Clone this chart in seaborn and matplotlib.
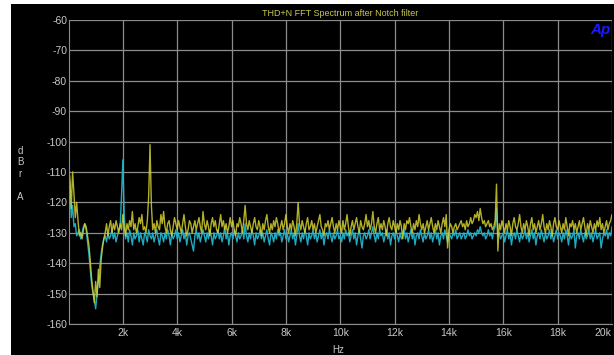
import numpy as np
import pandas as pd
import matplotlib
matplotlib.use("Agg")
import matplotlib.pyplot as plt
from matplotlib.patches import Rectangle
from matplotlib.ticker import MultipleLocator
from matplotlib.transforms import ScaledTranslation
import seaborn as sns

# FFT bin frequencies (Hz), 50 Hz bins
freq_hz = np.arange(0, 20001, 50)

# Yellow trace (dBrA)
yellow_db = [
    -108, -112, -122, -110, -117, -125, -120, -126, -131, -130,
    -132, -129, -127, -128, -131, -134, -139, -145, -149, -153,
    -146, -151, -142, -148, -139, -135, -132, -130, -127, -131,
    -128, -126, -130, -127, -129, -126, -128, -130, -127, -129,
    -124, -128, -131, -127, -129, -126, -128, -123, -129, -127,
    -130, -128, -125, -127, -124, -129, -128, -130, -126, -118,
    -101, -121, -129, -127, -130, -126, -128, -129, -124, -127,
    -123, -128, -130, -127, -126, -129, -131, -128, -125, -127,
    -129, -126, -128, -130, -127, -124, -128, -131, -129, -126,
    -127, -130, -128, -126, -129, -127, -125, -128, -130, -123,
    -127, -129, -126, -128, -131, -127, -125, -128, -126, -129,
    -130, -127, -124, -128, -126, -129, -127, -130, -128, -125,
    -128, -126, -129, -131, -127, -128, -125, -127, -130, -126,
    -121, -127, -129, -126, -128, -130, -127, -125, -128, -129,
    -126, -128, -131, -127, -129, -126, -124, -128, -130, -127,
    -129, -126, -128, -125, -127, -130, -128, -126, -129, -127,
    -124, -128, -130, -127, -129, -126, -128, -131, -127, -120,
    -127, -129, -126, -128, -130, -127, -125, -129, -128, -126,
    -129, -127, -130, -128, -126, -124, -128, -129, -131, -127,
    -128, -126, -129, -127, -125, -128, -130, -127, -129, -126,
    -128, -130, -126, -129, -127, -124, -128, -131, -128, -126,
    -129, -127, -125, -128, -130, -126, -128, -129, -127, -124,
    -128, -126, -129, -127, -123, -128, -130, -127, -125, -129,
    -127, -129, -126, -128, -131, -127, -125, -128, -129, -126,
    -128, -130, -127, -129, -126, -128, -132, -127, -129, -126,
    -127, -125, -128, -130, -127, -129, -126, -128, -124, -127,
    -129, -127, -130, -128, -126, -129, -127, -125, -128, -130,
    -127, -129, -126, -128, -130, -127, -125, -128, -124, -135,
    -129, -127, -128, -130, -128, -127, -129, -128, -127, -126,
    -128, -127, -129, -126, -128, -127, -125, -127, -126, -124,
    -125, -123, -126, -122, -125, -127, -126, -128, -127, -126,
    -128, -127, -129, -128, -126, -114, -136, -127, -129, -126,
    -128, -130, -127, -129, -126, -128, -131, -127, -125, -128,
    -129, -127, -124, -128, -130, -127, -129, -126, -128, -131,
    -127, -125, -129, -127, -130, -128, -126, -129, -127, -124,
    -128, -130, -127, -129, -126, -128, -131, -127, -125, -128,
    -129, -126, -128, -130, -127, -129, -125, -128, -131, -127,
    -128, -126, -129, -127, -130, -128, -126, -129, -127, -125,
    -128, -131, -127, -129, -126, -128, -130, -127, -129, -126,
    -128, -125, -129, -127, -130, -128, -126, -129, -127, -126,
    -124,
]

# Cyan trace (dBrA)
cyan_db = [
    -120, -113, -125, -121, -128, -127, -131, -130, -129, -132,
    -130, -128, -127, -129, -133, -137, -142, -147, -150, -152,
    -155, -150, -146, -141, -137, -134, -132, -131, -133, -130,
    -132, -131, -129, -132, -130, -133, -131, -129, -128, -118,
    -106, -124, -132, -130, -133, -129, -131, -134, -130, -132,
    -131, -129, -133, -130, -132, -134, -130, -131, -133, -129,
    -131, -132, -130, -133, -131, -129, -132, -134, -130, -131,
    -133, -130, -132, -129, -131, -134, -130, -132, -131, -129,
    -132, -130, -133, -131, -129, -132, -130, -134, -131, -130,
    -132, -134, -136, -131, -129, -132, -130, -133, -131, -129,
    -131, -133, -130, -132, -129, -131, -134, -130, -132, -131,
    -129, -132, -130, -133, -131, -128, -132, -130, -134, -131,
    -130, -132, -129, -131, -133, -130, -132, -131, -129, -132,
    -127, -131, -133, -130, -132, -129, -131, -134, -130, -132,
    -131, -129, -132, -130, -133, -131, -129, -132, -134, -130,
    -131, -133, -130, -132, -129, -131, -130, -133, -131, -129,
    -132, -130, -133, -131, -129, -132, -130, -134, -131, -127,
    -131, -133, -130, -132, -129, -131, -134, -130, -132, -131,
    -129, -132, -130, -133, -131, -129, -132, -130, -134, -131,
    -130, -132, -129, -131, -133, -130, -132, -131, -129, -132,
    -131, -133, -130, -132, -129, -131, -130, -133, -131, -129,
    -132, -130, -134, -131, -129, -132, -135, -131, -130, -132,
    -131, -129, -132, -130, -128, -131, -133, -130, -132, -129,
    -131, -130, -133, -131, -129, -132, -130, -134, -131, -130,
    -132, -129, -131, -133, -130, -132, -131, -129, -132, -130,
    -133, -131, -129, -132, -130, -134, -131, -130, -132, -129,
    -131, -133, -130, -132, -131, -129, -132, -130, -133, -131,
    -129, -132, -130, -134, -131, -130, -132, -129, -131, -133,
    -130, -131, -132, -130, -131, -129, -132, -131, -130, -132,
    -131, -130, -132, -131, -129, -131, -130, -132, -131, -130,
    -131, -129, -130, -128, -130, -131, -130, -132, -131, -129,
    -131, -130, -132, -129, -128, -122, -131, -130, -132, -131,
    -130, -133, -131, -129, -132, -130, -134, -131, -130, -132,
    -129, -131, -133, -130, -132, -131, -129, -132, -130, -133,
    -131, -129, -132, -130, -134, -131, -130, -132, -129, -131,
    -133, -130, -132, -131, -129, -132, -130, -133, -131, -129,
    -132, -130, -131, -133, -130, -132, -129, -131, -134, -130,
    -132, -131, -129, -135, -131, -130, -132, -129, -131, -133,
    -130, -132, -131, -129, -132, -130, -133, -131, -129, -132,
    -131, -130, -135, -132, -130, -131, -129, -132, -130, -131,
    -128,
]

x_ticks = [2000, 4000, 6000, 8000, 10000, 12000, 14000, 16000, 18000, 20000]
x_tick_labels = ["2k", "4k", "6k", "8k", "10k", "12k", "14k", "16k", "18k", "20k"]
y_ticks = [-60, -70, -80, -90, -100, -110, -120, -130, -140, -150, -160]

title_text = "THD+N FFT Spectrum after Notch filter"

assert len(yellow_db) == len(freq_hz) == len(cyan_db)

df = pd.concat([
    pd.DataFrame({"Hz": freq_hz, "dBrA": cyan_db, "trace": "cyan"}),
    pd.DataFrame({"Hz": freq_hz, "dBrA": yellow_db, "trace": "yellow"}),
])

sns.set_style("dark", {"axes.facecolor": "black"})
plt.rcParams["font.family"] = ["Liberation Sans", "DejaVu Sans"]

W, H = 614, 355
fig = plt.figure(figsize=(W / 100, H / 100), dpi=100, facecolor="white")
fig.patches.append(Rectangle((11 / W, 0), (W - 11) / W, (H - 4) / H,
                             transform=fig.transFigure, facecolor="black",
                             edgecolor="none", zorder=-10))

ax = fig.add_axes([68.5 / W, (H - 324) / H, (612 - 68.5) / W, (324 - 20) / H])
ax.set_facecolor("black")

sns.lineplot(data=df, x="Hz", y="dBrA", hue="trace",
             palette={"cyan": "#22b4cc", "yellow": "#d2d030"},
             hue_order=["cyan", "yellow"], linewidth=1.0, legend=False,
             ax=ax, estimator=None, sort=False)
ax.lines[0].set_alpha(0.95)
ax.lines[1].set_alpha(0.85)

ax.set_xlim(0, 20000)
ax.set_ylim(-160, -60)

grid_c = "#8c8c8c"
ax.set_xticks(x_ticks)
ax.set_xticklabels(x_tick_labels)
ax.set_yticks(y_ticks)
ax.set_yticklabels([f"-{abs(v)}" for v in y_ticks])
ax.xaxis.set_minor_locator(MultipleLocator(200))
ax.yaxis.set_minor_locator(MultipleLocator(2))
ax.grid(True, which="major", color=grid_c, linewidth=0.9)
ax.grid(False, which="minor")
ax.tick_params(which="major", length=0, pad=3, labelsize=7.5, colors="#c8c8c8")
ax.tick_params(axis="y", which="major", pad=1)
ax.tick_params(which="minor", direction="in", length=3, color=grid_c, width=0.8)
for s in ax.spines.values():
    s.set_visible(False)
ax.spines["left"].set_visible(True)
ax.spines["left"].set_color(grid_c)
ax.spines["bottom"].set_visible(True)
ax.spines["bottom"].set_color(grid_c)
ax.set_xlabel("")
ax.set_ylabel("")

# keep the last x label inside the figure
last = ax.get_xticklabels()[-1]
last.set_transform(last.get_transform() + ScaledTranslation(-9 / 100, 0, fig.dpi_scale_trans))

fig.text(340 / W, 1 - 13 / H, title_text, color="#c8c850", fontsize=6.5,
         ha="center", va="center")
fig.text(338 / W, 1 - 350 / H, "Hz", color="#c8c8c8", fontsize=7,
         ha="center", va="center")
fig.text(20 / W, 1 - 174 / H, "d\nB\nr\n\nA", color="#c8c8c8", fontsize=7,
         ha="center", va="center", linespacing=1.2)
fig.text(600 / W, 1 - 30 / H, "Ap", color="#1a1aff", fontsize=11,
         fontweight="bold", style="italic", ha="center", va="center")

fig.savefig("out.png", dpi=100, facecolor=fig.get_facecolor())
